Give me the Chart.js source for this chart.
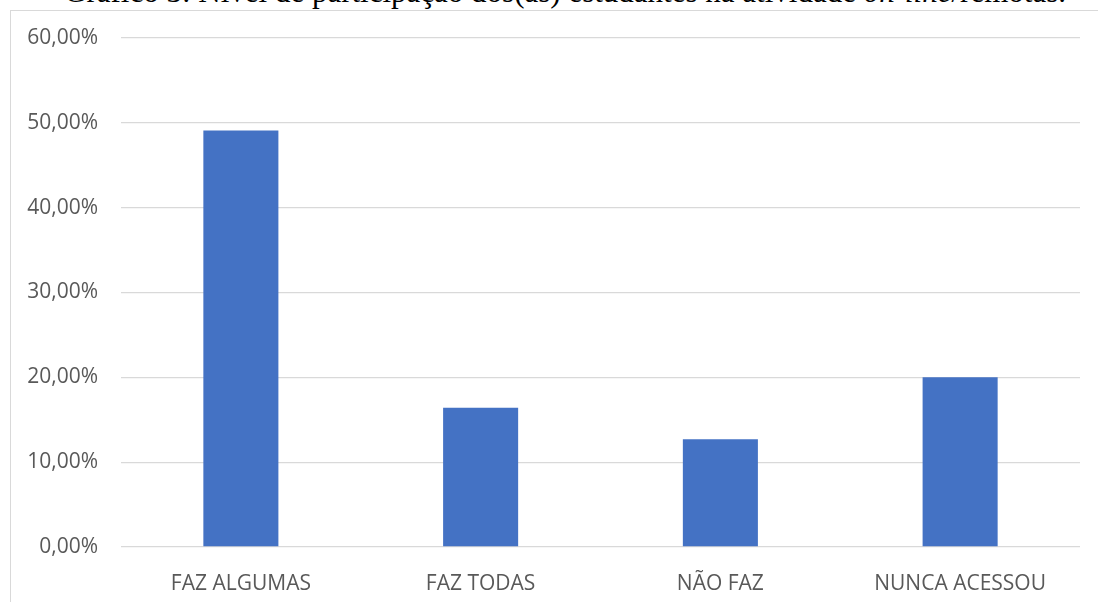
<!DOCTYPE html>
<html lang="pt">
<head>
<meta charset="utf-8">
<script src="https://cdn.jsdelivr.net/npm/chart.js@4/dist/chart.umd.min.js"></script>
<style>
  html, body { margin: 0; padding: 0; background: #fff; overflow: hidden; }
  #wrap { position: relative; width: 1098px; height: 602px; }
  #frame {
    position: absolute; left: 10px; top: 10px; width: 1200px; height: 700px;
    border: 1px solid #d9d9d9; box-sizing: border-box;
  }
  #title {
    position: absolute; left: 0; width: 1130px; top: -26px; text-align: center;
    font-family: "Liberation Serif", "Times New Roman", serif; font-size: 31px; color: #000;
    white-space: nowrap; line-height: 36px;
  }
  #chart { position: absolute; left: 0; top: 0; }
</style>
</head>
<body>
<div id="wrap">
  <div id="frame"></div>
  <div id="title">Gráfico 3: Nível de participação dos(as) estudantes na atividade <i>on-line</i>/remotas.</div>
  <canvas id="chart" width="1098" height="602"></canvas>
</div>
<script>
'use strict';

/* ---- Dados ---- */
const categorias = ['FAZ ALGUMAS', 'FAZ TODAS', 'NÃO FAZ', 'NUNCA ACESSOU'];
const percentuais = [49.1, 16.4, 12.7, 20.0];
const yMin = 0;
const yMax = 60;
const yPasso = 10;

const fonte = "'Open Sans', 'Liberation Sans', sans-serif";
const cinza = '#595959';

function fmtPct(v) {
  return Number(v).toFixed(2).replace('.', ',') + '%';
}

new Chart(document.getElementById('chart'), {
  type: 'bar',
  data: {
    labels: categorias,
    datasets: [{
      data: percentuais,
      backgroundColor: '#4472c4',
      borderWidth: 0,
      categoryPercentage: 1,
      barPercentage: 0.313
    }]
  },
  options: {
    responsive: false,
    animation: false,
    layout: { padding: { top: 38, right: 18, left: 0, bottom: 0 } },
    plugins: {
      legend: { display: false },
      tooltip: { enabled: false }
    },
    scales: {
      x: {
        grid: { display: false },
        border: { display: false },
        ticks: { color: cinza, font: { family: fonte, size: 21 }, padding: 16, maxRotation: 0 },
        afterFit: (s) => { s.height = 55; }
      },
      y: {
        min: yMin,
        max: yMax,
        grid: { color: '#d9d9d9', lineWidth: 1.3, drawTicks: false },
        border: { display: false },
        ticks: {
          stepSize: yPasso,
          color: cinza,
          font: { family: fonte, size: 21 },
          padding: 23,
          callback: fmtPct
        },
        afterFit: (s) => { s.width = 121; }
      }
    }
  }
});
</script>
</body>
</html>
